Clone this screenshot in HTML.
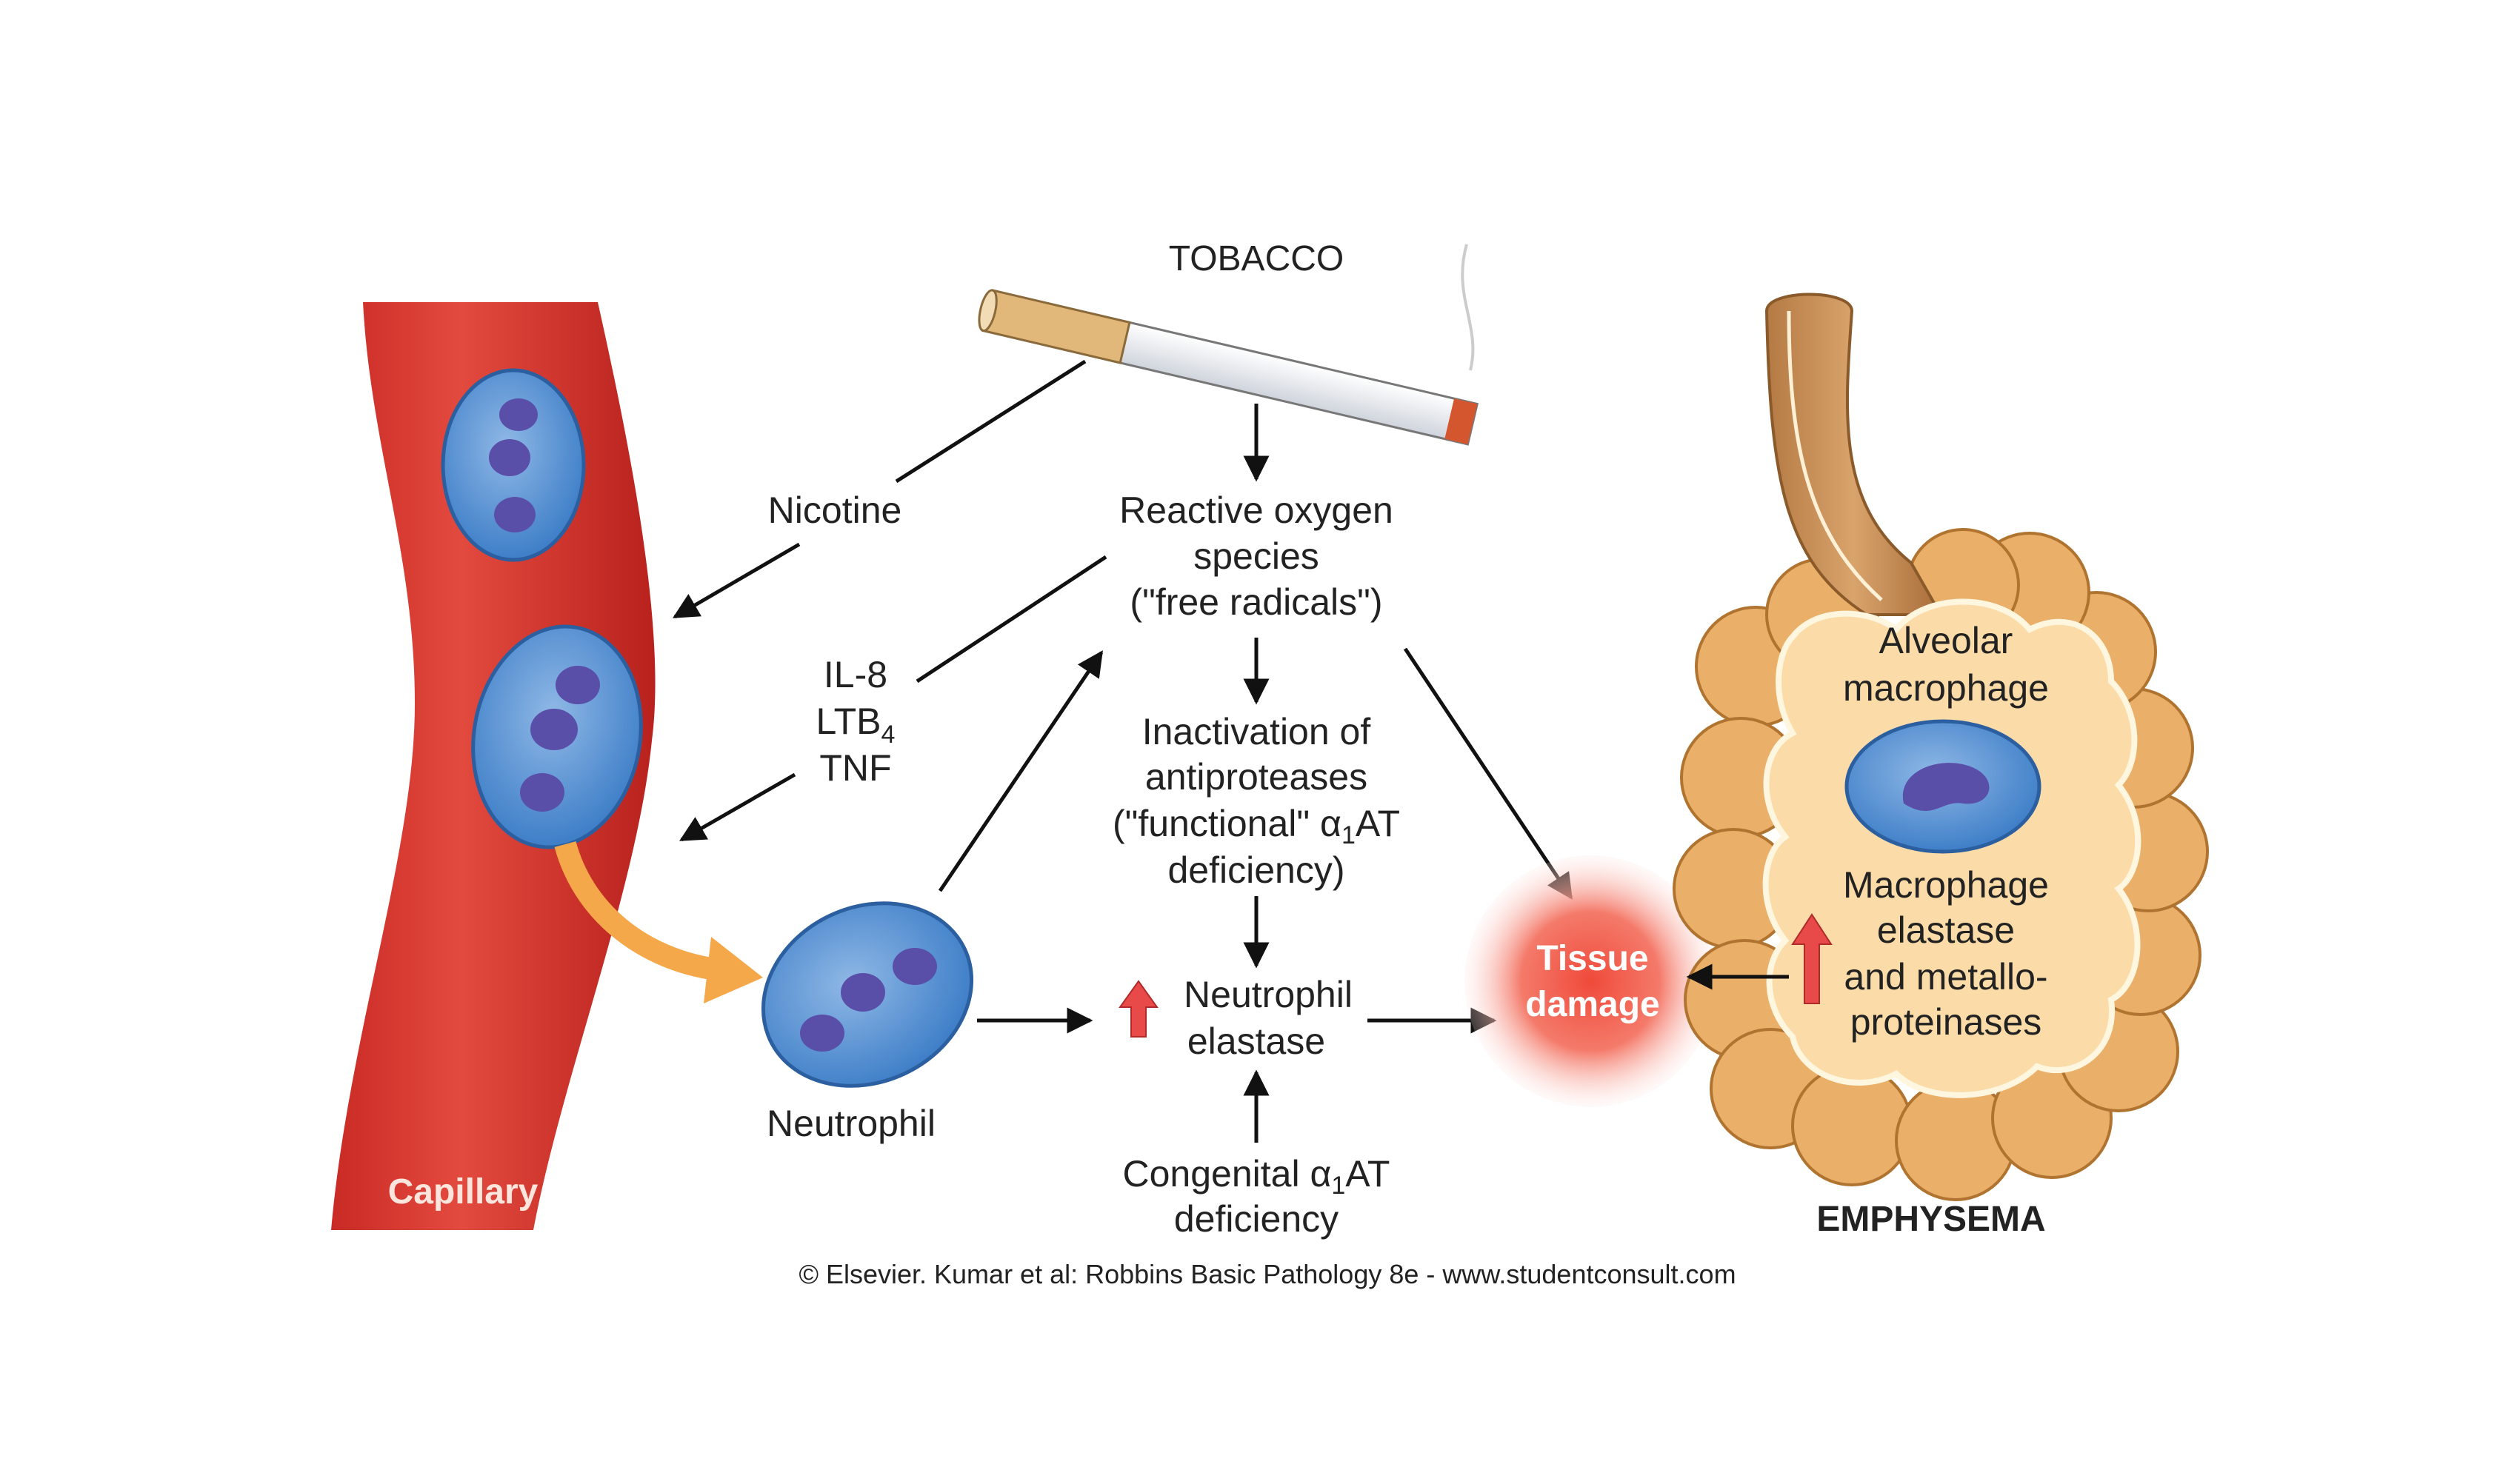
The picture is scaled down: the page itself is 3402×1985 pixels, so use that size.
<!DOCTYPE html>
<html><head><meta charset="utf-8"><style>
html,body{margin:0;padding:0;background:#fff;}
svg{display:block;}
text{font-family:"Liberation Sans",Arial,sans-serif;fill:#222;}
</style></head><body>
<svg width="3402" height="1985" viewBox="0 0 3402 1985" xmlns="http://www.w3.org/2000/svg">
<defs>
<marker id="ah" viewBox="0 0 10 10" refX="9" refY="5" markerWidth="7" markerHeight="7" orient="auto-start-reverse" markerUnits="strokeWidth"><path d="M0,0 L10,5 L0,10 z" fill="#111"/></marker>
<radialGradient id="td" cx="0.5" cy="0.5" r="0.5"><stop offset="0" stop-color="#f04a3a"/><stop offset="0.55" stop-color="#f47a6a"/><stop offset="1" stop-color="#fde6e2" stop-opacity="0.2"/></radialGradient>
<linearGradient id="cap" x1="0" x2="1" y1="0" y2="0"><stop offset="0" stop-color="#c92a25"/><stop offset="0.4" stop-color="#e34a3e"/><stop offset="1" stop-color="#b8211d"/></linearGradient>
<radialGradient id="cell" cx="0.45" cy="0.4" r="0.6"><stop offset="0" stop-color="#8fb8e6"/><stop offset="1" stop-color="#3f7fc8"/></radialGradient>
<linearGradient id="stem" x1="0" x2="1"><stop offset="0" stop-color="#b57a44"/><stop offset="0.5" stop-color="#d9a36c"/><stop offset="1" stop-color="#a86c38"/></linearGradient>
<linearGradient id="cig" x1="0" x2="0" y1="0" y2="1"><stop offset="0" stop-color="#fff"/><stop offset="1" stop-color="#cfd4dc"/></linearGradient>
</defs>

<path d="M490,408 L807,408 C850,600 900,850 880,1000 C860,1200 760,1450 720,1661 L447,1661 C470,1400 560,1150 560,950 C560,750 500,600 490,408 Z" fill="url(#cap)"/>
<g>
<ellipse cx="693" cy="628" rx="95" ry="128" fill="url(#cell)" stroke="#2c5fa0" stroke-width="5"/>
<ellipse cx="700" cy="560" rx="26" ry="22" fill="#5a4fa8"/><ellipse cx="688" cy="618" rx="28" ry="25" fill="#5a4fa8"/><ellipse cx="695" cy="695" rx="28" ry="24" fill="#5a4fa8"/>
<ellipse cx="752" cy="995" rx="112" ry="150" transform="rotate(10 752 995)" fill="url(#cell)" stroke="#2c5fa0" stroke-width="5"/>
<ellipse cx="780" cy="925" rx="30" ry="26" fill="#5a4fa8"/><ellipse cx="748" cy="985" rx="32" ry="28" fill="#5a4fa8"/><ellipse cx="732" cy="1070" rx="30" ry="26" fill="#5a4fa8"/>
</g>
<path d="M763,1140 C790,1240 880,1300 975,1310" fill="none" stroke="#f4a84a" stroke-width="30"/>
<path d="M960,1265 L1030,1320 L950,1355 Z" fill="#f4a84a"/>
<text x="625" y="1625" font-size="48" font-weight="bold" text-anchor="middle" style="fill:#fbe5dc">Capillary</text>

<ellipse cx="1171" cy="1343" rx="145" ry="118" transform="rotate(-25 1171 1343)" fill="url(#cell)" stroke="#2c5fa0" stroke-width="5"/>
<ellipse cx="1235" cy="1305" rx="30" ry="25" fill="#5a4fa8"/><ellipse cx="1165" cy="1340" rx="30" ry="26" fill="#5a4fa8"/><ellipse cx="1110" cy="1395" rx="30" ry="25" fill="#5a4fa8"/>

<g transform="translate(1340,392) rotate(13.2)">
<rect x="0" y="0" width="672" height="56" fill="url(#cig)" stroke="#777" stroke-width="3"/>
<rect x="0" y="0" width="190" height="56" fill="#e2b77a" stroke="#8a6a3a" stroke-width="3"/>
<ellipse cx="0" cy="28" rx="10" ry="28" fill="#f2dcb5" stroke="#8a6a3a" stroke-width="3"/>
<rect x="640" y="0" width="32" height="56" fill="#d4562f"/>
</g>
<path d="M1980,330 C1960,400 2000,440 1985,500" stroke="#ccc" stroke-width="4" fill="none"/>
<text x="1696" y="365" font-size="48" text-anchor="middle">TOBACCO</text>

<g font-size="50" text-anchor="middle">
<text x="1127" y="706">Nicotine</text>
<text x="1696" y="706">Reactive oxygen</text>
<text x="1696" y="768">species</text>
<text x="1696" y="830">("free radicals")</text>
<text x="1155" y="928">IL-8</text>
<text x="1155" y="991">LTB<tspan font-size="34" dy="12">4</tspan></text>
<text x="1155" y="1054">TNF</text>
<text x="1696" y="1005">Inactivation of</text>
<text x="1696" y="1066">antiproteases</text>
<text x="1696" y="1129">("functional" α<tspan font-size="34" dy="10">1</tspan><tspan dy="-10">AT</tspan></text>
<text x="1696" y="1192">deficiency)</text>
<text x="1712" y="1360">Neutrophil</text>
<text x="1696" y="1423">elastase</text>
<text x="1149" y="1534">Neutrophil</text>
<text x="1696" y="1602">Congenital α<tspan font-size="34" dy="10">1</tspan><tspan dy="-10">AT</tspan></text>
<text x="1696" y="1663">deficiency</text>
</g>
<path d="M1527,1400 L1527,1360 L1512,1360 L1537,1325 L1562,1360 L1547,1360 L1547,1400 Z" fill="#e84a4a" stroke="#b02a2a" stroke-width="2"/>

<g stroke="#111" stroke-width="5" fill="none">
<line x1="1465" y1="488" x2="1210" y2="650"/>
<line x1="1079" y1="735" x2="911" y2="833" marker-end="url(#ah)"/>
<line x1="1696" y1="545" x2="1696" y2="647" marker-end="url(#ah)"/>
<line x1="1493" y1="752" x2="1238" y2="920"/>
<line x1="1073" y1="1046" x2="920" y2="1134" marker-end="url(#ah)"/>
<line x1="1696" y1="861" x2="1696" y2="948" marker-end="url(#ah)"/>
<line x1="1696" y1="1210" x2="1696" y2="1304" marker-end="url(#ah)"/>
<line x1="1696" y1="1543" x2="1696" y2="1448" marker-end="url(#ah)"/>
<line x1="1319" y1="1378" x2="1472" y2="1378" marker-end="url(#ah)"/>
<line x1="1846" y1="1378" x2="2017" y2="1378" marker-end="url(#ah)"/>
<line x1="1269" y1="1203" x2="1487" y2="881" marker-end="url(#ah)"/>
<line x1="1897" y1="876" x2="2121" y2="1212" marker-end="url(#ah)"/>
</g>

<circle cx="2147" cy="1325" r="170" fill="url(#td)"/>
<g font-size="48" font-weight="bold" text-anchor="middle">
<text x="2150" y="1310" style="fill:#fff">Tissue</text>
<text x="2150" y="1372" style="fill:#fff">damage</text>
</g>

<g>
<g fill="#eab06a" stroke="#b07430" stroke-width="4">
<circle cx="2370" cy="900" r="80"/><circle cx="2350" cy="1050" r="80"/><circle cx="2340" cy="1200" r="80"/><circle cx="2355" cy="1350" r="80"/><circle cx="2390" cy="1470" r="80"/>
<circle cx="2500" cy="1520" r="80"/><circle cx="2640" cy="1540" r="80"/><circle cx="2770" cy="1510" r="80"/><circle cx="2860" cy="1420" r="80"/>
<circle cx="2890" cy="1290" r="80"/><circle cx="2900" cy="1150" r="80"/><circle cx="2880" cy="1010" r="80"/><circle cx="2830" cy="880" r="80"/><circle cx="2740" cy="800" r="80"/><circle cx="2650" cy="790" r="75"/><circle cx="2460" cy="830" r="75"/>
</g>
<path d="M2385,420 C2385,390 2500,390 2500,420 C2490,560 2480,680 2580,760 L2620,830 L2520,830 C2410,760 2390,650 2385,420 Z" fill="url(#stem)" stroke="#8a5a2a" stroke-width="4"/>
<path d="M2420,860 C2450,820 2520,820 2560,850 C2600,800 2700,800 2740,850 C2800,820 2850,860 2850,920 C2890,960 2890,1030 2860,1060 C2900,1110 2890,1180 2860,1200 C2900,1250 2890,1330 2850,1350 C2860,1420 2800,1460 2750,1440 C2700,1490 2600,1490 2560,1450 C2500,1480 2430,1450 2420,1400 C2380,1360 2380,1300 2410,1270 C2370,1220 2380,1150 2410,1130 C2370,1080 2380,1010 2420,990 C2390,940 2400,880 2420,860 Z" fill="#fbdca8" stroke="#fff6e0" stroke-width="8"/>
<path d="M2415,420 C2415,600 2440,720 2540,810" stroke="#fff0d6" stroke-width="5" fill="none"/>
<ellipse cx="2623" cy="1062" rx="130" ry="88" fill="url(#cell)" stroke="#2c5fa0" stroke-width="5"/>
<path d="M2570,1085 C2560,1040 2620,1020 2660,1035 C2700,1050 2690,1090 2650,1085 C2620,1080 2610,1110 2570,1085 Z" fill="#5a4fa8"/>
<g font-size="50" text-anchor="middle">
<text x="2627" y="882">Alveolar</text>
<text x="2627" y="946">macrophage</text>
<text x="2627" y="1212">Macrophage</text>
<text x="2627" y="1273">elastase</text>
<text x="2627" y="1336">and metallo-</text>
<text x="2627" y="1397">proteinases</text>
</g>
<path d="M2436,1355 L2436,1275 L2420,1275 L2446,1235 L2472,1275 L2456,1275 L2456,1355 Z" fill="#e84a4a" stroke="#b02a2a" stroke-width="2"/>
<line x1="2415" y1="1319" x2="2280" y2="1319" stroke="#111" stroke-width="5" marker-end="url(#ah)"/>
</g>
<text x="2607" y="1662" font-size="48" font-weight="bold" text-anchor="middle">EMPHYSEMA</text>
<text x="1711" y="1733" font-size="36" text-anchor="middle">© Elsevier. Kumar et al: Robbins Basic Pathology 8e - www.studentconsult.com</text>
</svg>
</body></html>
